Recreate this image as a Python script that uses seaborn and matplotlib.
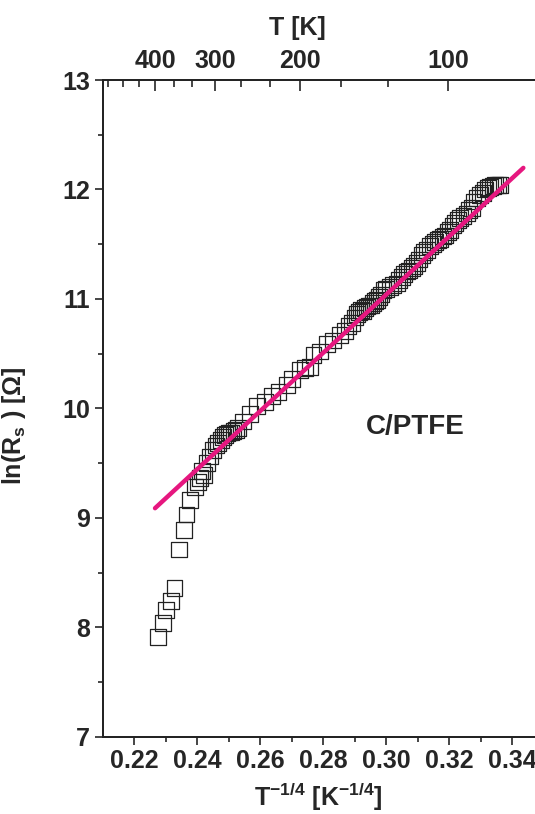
import numpy as np
import pandas as pd
import matplotlib
matplotlib.use("Agg")
import matplotlib.pyplot as plt
import seaborn as sns

# ln(Rs) against T^-1/4
t_quarter = [0.2276, 0.2292, 0.2302, 0.2316, 0.2328, 0.2343, 0.2359, 0.2366, 0.2377, 0.2393,
             0.2402, 0.2409, 0.2415, 0.2422, 0.2430, 0.2440, 0.2451, 0.2460, 0.2467, 0.2475,
             0.2483, 0.2488, 0.2495, 0.2501, 0.2507, 0.2515, 0.2523, 0.2530, 0.2546, 0.2568,
             0.2589, 0.2615, 0.2637, 0.2658, 0.2684, 0.2700, 0.2726, 0.2742, 0.2758, 0.2769,
             0.2790, 0.2811, 0.2832, 0.2854, 0.2869, 0.2880, 0.2891, 0.2901, 0.2908, 0.2914,
             0.2920, 0.2926, 0.2933, 0.2939, 0.2946, 0.2952, 0.2958, 0.2965, 0.2971, 0.2977,
             0.2984, 0.2991, 0.3000, 0.3012, 0.3022, 0.3034, 0.3041, 0.3050, 0.3057, 0.3065,
             0.3073, 0.3081, 0.3089, 0.3097, 0.3105, 0.3113, 0.3120, 0.3129, 0.3139, 0.3147,
             0.3155, 0.3163, 0.3171, 0.3179, 0.3187, 0.3195, 0.3203, 0.3211, 0.3219, 0.3227,
             0.3235, 0.3245, 0.3256, 0.3263, 0.3272, 0.3277, 0.3288, 0.3298, 0.3306, 0.3314,
             0.3322, 0.3330, 0.3338, 0.3346, 0.3354, 0.3362]
ln_rs = [7.91, 8.04, 8.16, 8.24, 8.36, 8.71, 8.89, 9.03, 9.16, 9.28,
         9.33, 9.36, 9.43, 9.39, 9.50, 9.56, 9.62, 9.66, 9.68, 9.71,
         9.74, 9.76, 9.77, 9.78, 9.78, 9.79, 9.80, 9.82, 9.88, 9.95,
         10.02, 10.06, 10.11, 10.15, 10.21, 10.27, 10.35, 10.37, 10.38, 10.49,
         10.52, 10.59, 10.62, 10.67, 10.71, 10.75, 10.78, 10.83, 10.86, 10.88,
         10.90, 10.89, 10.92, 10.93, 10.94, 10.94, 10.96, 10.98, 10.99, 11.02,
         11.04, 11.08, 11.09, 11.11, 11.13, 11.14, 11.17, 11.20, 11.23, 11.25,
         11.26, 11.28, 11.30, 11.33, 11.36, 11.40, 11.43, 11.45, 11.48, 11.50,
         11.52, 11.54, 11.55, 11.57, 11.58, 11.61, 11.63, 11.67, 11.69, 11.72,
         11.74, 11.76, 11.78, 11.81, 11.83, 11.89, 11.92, 11.95, 11.97, 12.00,
         12.01, 12.02, 12.03, 12.04, 12.04, 12.04]

# straight-line fit drawn over the data
fit_slope = 26.6
fit_intercept = 3.06
fit_range = [0.2266, 0.3435]

# bottom / left axes
x_ticks = [0.22, 0.24, 0.26, 0.28, 0.30, 0.32, 0.34]
y_ticks = [7, 8, 9, 10, 11, 12, 13]

# top temperature axis (positions as drawn in the original)
top_tick_pos = [0.2266, 0.2456, 0.2726, 0.3197]
top_tick_labels = ["400", "300", "200", "100"]
top_minor_pos = [0.2117, 0.2164, 0.2214, 0.2325, 0.2383, 0.2539, 0.2630, 0.2856, 0.3004]

sns.set_style("ticks")
plt.rcParams['font.family'] = ['Liberation Sans', 'DejaVu Sans']
plt.rcParams['mathtext.fontset'] = 'custom'
plt.rcParams['mathtext.rm'] = 'Liberation Sans'
plt.rcParams['mathtext.bf'] = 'Liberation Sans:bold'
plt.rcParams['mathtext.default'] = 'regular'

df = pd.DataFrame({"x": t_quarter, "y": ln_rs})
fit_x = np.array(fit_range)
fit_df = pd.DataFrame({"x": fit_x, "y": fit_intercept + fit_slope * fit_x})

fig = plt.figure(figsize=(5.35, 8.14), dpi=100)
ax = fig.add_axes([0.192, 0.095, 0.8245, 0.8067])

sns.scatterplot(data=df, x="x", y="y", marker="s", s=130, facecolor="none",
                edgecolor="#222222", linewidth=0.9, ax=ax, zorder=2)
sns.lineplot(data=fit_df, x="x", y="y", color="#e6177f", linewidth=3.2, ax=ax, zorder=3)

ax.set_xlim(0.21, 0.35)
ax.set_ylim(7, 13)
ax.set_xticks(x_ticks)
ax.set_xticklabels([f"{v:.2f}" for v in x_ticks])
ax.set_yticks(y_ticks)
ax.set_xticks(np.arange(0.23, 0.35, 0.02), minor=True)
ax.set_yticks(np.arange(7.5, 13, 1.0), minor=True)

for lab in ax.get_xticklabels() + ax.get_yticklabels():
    lab.set_fontweight('bold')
    lab.set_fontsize(18)

ax.tick_params(which='major', direction='out', length=6, width=1.2, pad=3)
ax.tick_params(which='minor', direction='out', length=3.5, width=1.2)
ax.tick_params(top=False, right=False)
for side in ['left', 'bottom', 'top', 'right']:
    ax.spines[side].set_linewidth(1.3)
    ax.spines[side].set_color('#222222')

ax.set_xlabel(r"$\mathbf{T^{-1/4}}$ [$\mathbf{K^{-1/4}}$]", fontsize=18, fontweight='bold')
ax.set_ylabel(r"ln(R$_\mathbf{s}$ ) [Ω]", fontsize=18, fontweight='bold')
ax.xaxis.set_label_coords(0.488, -0.068)
ax.yaxis.set_label_coords(-0.17, 0.473)

ax2 = ax.twiny()
ax2.set_xlim(ax.get_xlim())
ax2.set_xticks(top_tick_pos)
ax2.set_xticklabels(top_tick_labels, fontsize=18, fontweight='bold')
ax2.set_xticks(top_minor_pos, minor=True)
ax2.tick_params(which='major', direction='in', length=8, width=1.2, pad=5)
ax2.tick_params(which='minor', direction='in', length=5, width=1.2)
ax2.set_xlabel("T [K]", fontsize=18, fontweight='bold')
ax2.xaxis.set_label_coords(0.4405, 1.068)
for side in ['left', 'bottom', 'top', 'right']:
    ax2.spines[side].set_linewidth(1.3)
    ax2.spines[side].set_color('#222222')

ax.text(0.3092, 9.83, "C/PTFE", fontsize=20, fontweight='bold', ha='center', va='center')

fig.savefig("out.png", dpi=100)
